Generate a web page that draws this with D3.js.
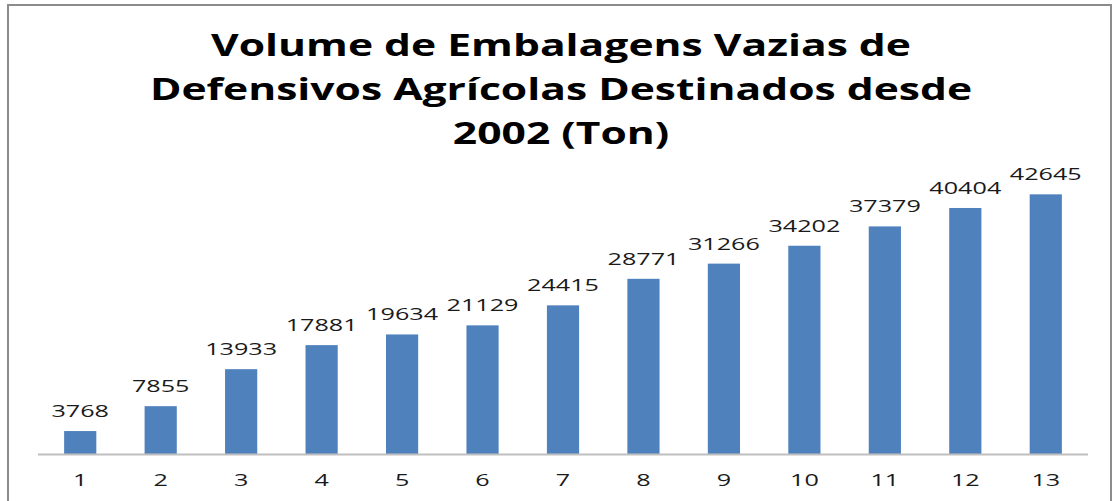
<!DOCTYPE html>
<html>
<head>
<meta charset="utf-8">
<script src="https://cdn.jsdelivr.net/npm/d3@7"></script>
<style>
  body { margin: 0; background: #fff; }
  svg { display: block; }
</style>
</head>
<body>
<div id="grafica"></div>
<script>
// data
var anos = ["1", "2", "3", "4", "5", "6", "7", "8", "9", "10", "11", "12", "13"];
var volumes = [3768, 7855, 13933, 17881, 19634, 21129, 24415, 28771, 31266, 34202, 37379, 40404, 42645];
var tituloLinhas = ["Volume de Embalagens Vazias de", "Defensivos Agrícolas Destinados desde", "2002 (Ton)"];

var W = 1113, H = 501;
var stretchTitle = 1.42; // the source image is stretched sideways
var stretchLabel = 1.48;

var svg = d3.select("#grafica")
  .append("svg")
  .attr("width", W)
  .attr("height", H);

// chart frame (bottom edge is cut off)
svg.append("path")
  .attr("d", "M8,501 L8,5 L1111,5 L1111,501")
  .attr("fill", "none")
  .attr("stroke", "#8c8c8c")
  .attr("stroke-width", 2);

// title
svg.append("g")
  .selectAll("text")
  .data(tituloLinhas)
  .enter()
  .append("text")
  .attr("transform", function (d, i) {
    return "translate(561," + (56 + i * 44) + ") scale(" + stretchTitle + ",1)";
  })
  .attr("text-anchor", "middle")
  .style("font-family", "'Open Sans', sans-serif")
  .style("font-weight", "bold")
  .style("font-size", "30px")
  .style("fill", "#000")
  .text(function (d) { return d; });

// scales
var x = d3.scaleBand()
  .domain(anos)
  .range([40, 1086])
  .paddingInner(0.6)
  .paddingOuter(0.3);

var y = d3.scaleLinear()
  .domain([0, 45000])
  .range([454, 180]);

// bars
svg.append("g")
  .selectAll("rect")
  .data(volumes)
  .enter()
  .append("rect")
  .attr("x", function (d, i) { return x(anos[i]); })
  .attr("y", function (d) { return y(d); })
  .attr("width", x.bandwidth())
  .attr("height", function (d) { return y(0) - y(d); })
  .style("fill", "#4f81bd");

// value labels
svg.append("g")
  .selectAll("text")
  .data(volumes)
  .enter()
  .append("text")
  .attr("transform", function (d, i) {
    return "translate(" + (x(anos[i]) + x.bandwidth() / 2) + "," + (y(d) - 14) + ") scale(" + stretchLabel + ",1)";
  })
  .attr("text-anchor", "middle")
  .style("font-family", "'Open Sans', sans-serif")
  .style("font-size", "17px")
  .style("fill", "#1a1a1a")
  .text(function (d) { return d; });

// X axis
var eixo = svg.append("g")
  .attr("transform", "translate(0," + y(0) + ")")
  .call(d3.axisBottom(x).tickSize(0).tickPadding(0));

eixo.select(".domain")
  .attr("d", "M38,0.5H1088")
  .attr("stroke", "#bfbfbf")
  .attr("stroke-width", 2);

eixo.selectAll(".tick text")
  .attr("y", 32)
  .attr("dy", null)
  .attr("transform", "scale(" + stretchLabel + ",1)")
  .attr("x", 0)
  .style("font-family", "'Open Sans', sans-serif")
  .style("font-size", "17px")
  .style("fill", "#1a1a1a");
</script>
</body>
</html>
